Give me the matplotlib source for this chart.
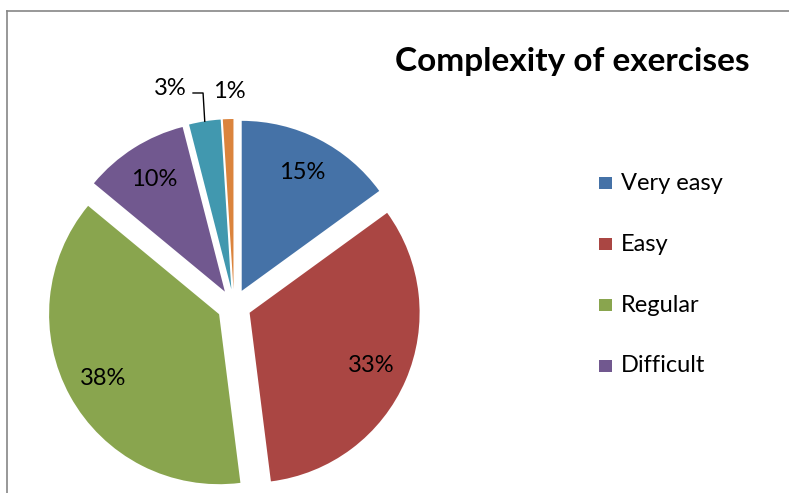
import matplotlib
matplotlib.use('Agg')
import matplotlib.pyplot as plt
import numpy as np
from matplotlib.lines import Line2D
from matplotlib.patches import Rectangle

# data
categories = ['Very easy', 'Easy', 'Regular', 'Difficult', 'Very difficult', 'Impossible']
values = [15, 33, 38, 10, 3, 1]
colors = ['#4572A7', '#AA4643', '#89A54E', '#71588F', '#4198AF', '#DB843D']
legend_shown = 4  # only the first four entries fit in the picture

plt.rcParams['font.family'] = ['Lato', 'DejaVu Sans']

W, H = 789, 493
fig = plt.figure(figsize=(W / 100, H / 100), dpi=100)
ax = fig.add_axes([0, 0, 1, 1])

# pie centre and radius in pixels
cx, cy, R = 234, 306, 170
lab_size = 17

explode = [0.1] * len(values)
wedges, texts, autotexts = ax.pie(values, colors=colors, startangle=90, counterclock=False,
                                  explode=explode, radius=1, autopct='%1.0f%%', pctdistance=0.78,
                                  wedgeprops=dict(linewidth=0),
                                  textprops=dict(fontsize=lab_size, color='black'))
ax.set_xlim(-cx / R, (W - cx) / R)
ax.set_ylim((cy - H) / R, cy / R)
ax.set_aspect('auto')
ax.axis('off')

# small slices: labels outside
for i, t in enumerate(autotexts):
    if values[i] < 5:
        t.set_visible(False)

w3 = wedges[4]
ang = np.deg2rad((w3.theta1 + w3.theta2) / 2)
ex, ey = w3.center
edge = (ex + np.cos(ang), ey + np.sin(ang))
ax.plot([edge[0], -0.182, -0.241], [edge[1], 1.253, 1.253], color='black', lw=1)
ax.text(-0.376, 1.282, '%d%%' % values[4], fontsize=lab_size, ha='center', va='center')
ax.text(-0.03, 1.259, '%d%%' % values[5], fontsize=lab_size, ha='center', va='center')

# title
fig.text(572 / W, (H - 71) / H, 'Complexity of exercises', fontsize=24, fontweight='bold',
         ha='center', va='baseline')

# legend
for i in range(legend_shown):
    ypx = 183 + i * 61
    fig.patches.append(Rectangle((599 / W, (H - ypx - 6) / H), 13 / W, 12 / H,
                                 transform=fig.transFigure, facecolor=colors[i], edgecolor='none'))
    fig.text(621 / W, (H - ypx) / H, categories[i], fontsize=lab_size, ha='left', va='center')

# chart frame
fig.add_artist(Line2D([7 / W, 7 / W], [0, (H - 11) / H], transform=fig.transFigure, color='#868686', lw=1.2))
fig.add_artist(Line2D([7 / W, 1], [(H - 11) / H, (H - 11) / H], transform=fig.transFigure, color='#868686', lw=1.2))

fig.savefig('out.png', dpi=100)
